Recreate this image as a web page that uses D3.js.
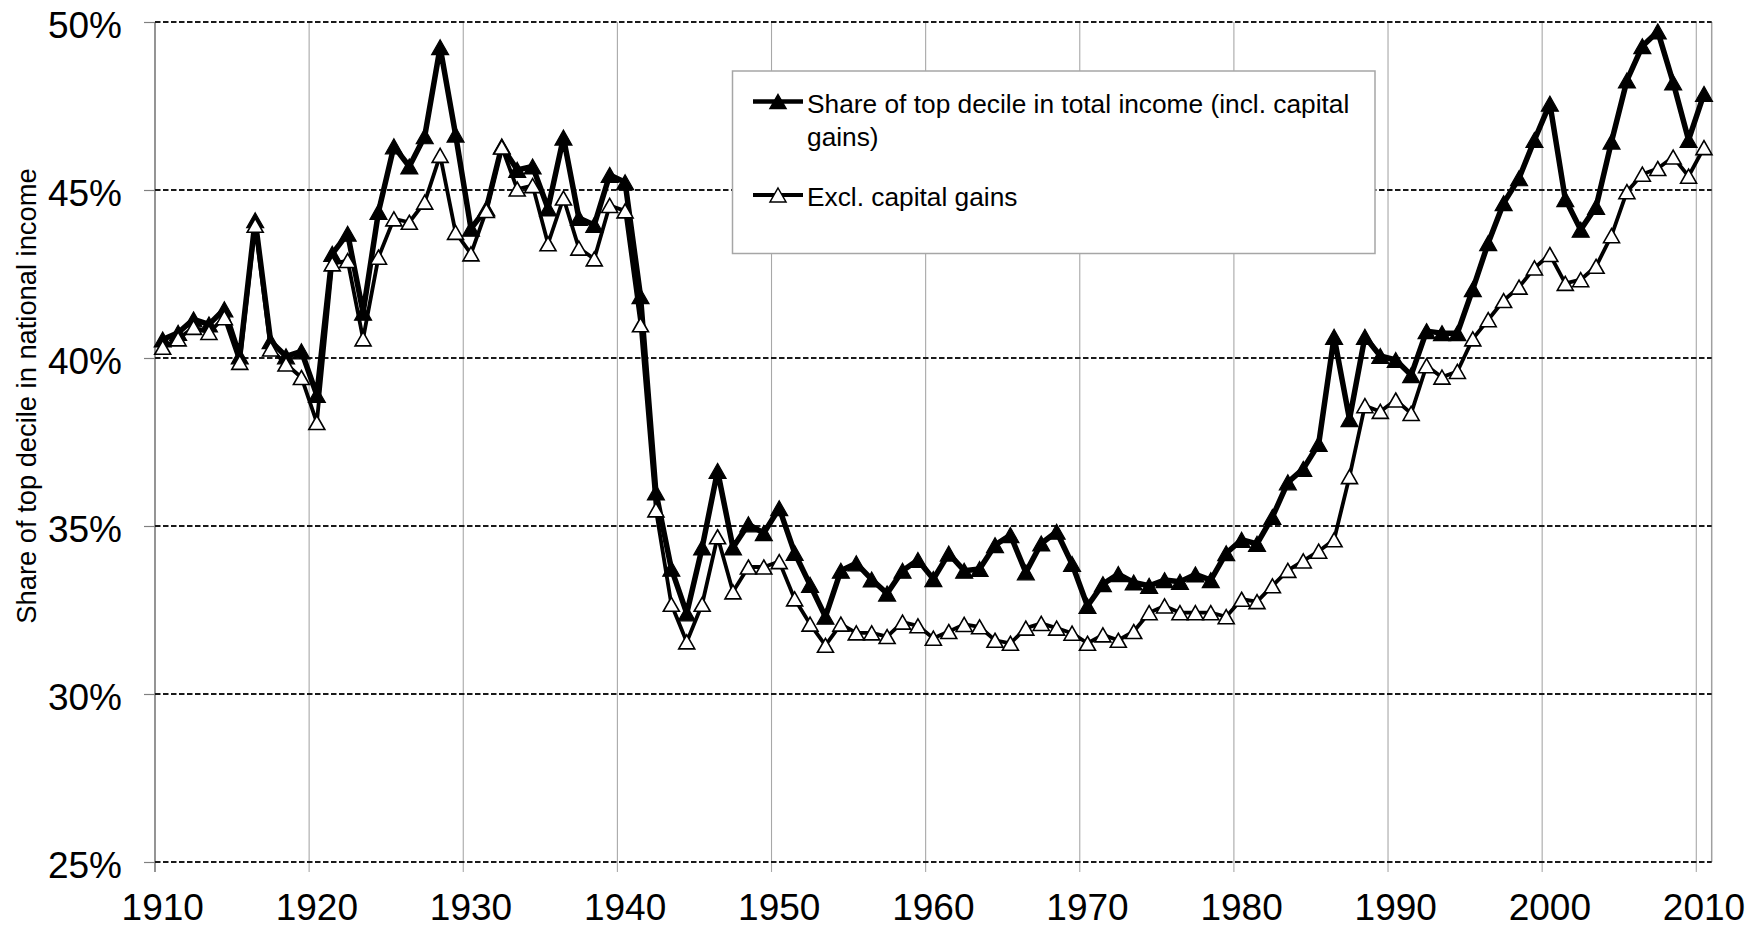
<!DOCTYPE html>
<html>
<head>
<meta charset="utf-8">
<script src="https://cdn.jsdelivr.net/npm/d3@7"></script>
<style>
  html, body { margin: 0; padding: 0; background: #fff; }
  svg { display: block; font-family: "Liberation Sans", Arial, Helvetica, sans-serif; }
</style>
</head>
<body>
<svg id="chart" width="1748" height="930"></svg>
<script>
const years = d3.range(1910, 2011);

const inclCapitalGains = [
  40.55, 40.75, 41.15, 41.0, 41.45, 40.05, 44.1, 40.5, 40.05, 40.2,
  38.9, 43.1, 43.7, 41.35, 44.35, 46.3, 45.7, 46.6, 49.25, 46.65,
  43.85, 44.45, 46.3, 45.6, 45.7, 44.45, 46.56, 44.17, 43.96, 45.45,
  45.23, 41.84, 36.0, 33.73, 32.4, 34.36, 36.64, 34.36, 35.05, 34.79,
  35.53, 34.2, 33.25, 32.3, 33.67, 33.89, 33.41, 32.99, 33.67, 33.99,
  33.42, 34.18, 33.67, 33.72, 34.43, 34.73, 33.62, 34.48, 34.83, 33.87,
  32.62, 33.27, 33.57, 33.32, 33.22, 33.39, 33.34, 33.56, 33.39, 34.19,
  34.59, 34.47, 35.27, 36.3, 36.7, 37.44, 40.63, 38.18, 40.63, 40.06,
  39.94, 39.49, 40.8, 40.74, 40.74, 42.05, 43.42, 44.61, 45.35, 46.49,
  47.57, 44.73, 43.82, 44.5, 46.44, 48.26, 49.28, 49.72, 48.2, 46.49,
  47.86
];

const exclCapitalGains = [
  40.32, 40.57, 40.91, 40.76, 41.2, 39.87, 43.95, 40.27, 39.82, 39.42,
  38.08, 42.8, 42.9, 40.57, 43.0, 44.14, 44.04, 44.64, 46.03, 43.74,
  43.1, 44.39, 46.28, 45.03, 45.13, 43.4, 44.76, 43.27, 42.95, 44.54,
  44.38, 40.99, 35.48, 32.67, 31.55, 32.67, 34.68, 33.04, 33.78, 33.78,
  33.94, 32.83, 32.08, 31.45, 32.08, 31.82, 31.82, 31.71, 32.14, 32.03,
  31.66, 31.86, 32.07, 32.0, 31.6, 31.51, 31.96, 32.1, 31.96, 31.81,
  31.51, 31.76, 31.6, 31.86, 32.42, 32.62, 32.42, 32.42, 32.42, 32.3,
  32.82, 32.75, 33.22, 33.68, 33.96, 34.25, 34.59, 36.47, 38.58, 38.41,
  38.75, 38.35, 39.77, 39.43, 39.6, 40.57, 41.14, 41.71, 42.11, 42.68,
  43.08, 42.22, 42.33, 42.73, 43.64, 44.95, 45.47, 45.64, 45.98, 45.41,
  46.26
];

const yTicks = [25, 30, 35, 40, 45, 50];
const xTickYears = [1910, 1920, 1930, 1940, 1950, 1960, 1970, 1980, 1990, 2000, 2010];
const seriesNames = [
  ["Share of top decile in total income (incl. capital", "gains)"],
  ["Excl. capital gains"]
];
const yTitle = "Share of top decile in national income";

const svg = d3.select("#chart");
const pLeft = 155, pRight = 1711.7, pTop = 22, pBottom = 862;

const x = d3.scaleBand().domain(years).range([pLeft, pRight]).paddingInner(0).paddingOuter(0);
const y = d3.scaleLinear().domain([25, 50]).range([pBottom, pTop]);
const cx = yr => x(yr) + x.bandwidth() / 2;

svg.append("rect").attr("width", 1748).attr("height", 930).attr("fill", "#fff");

// vertical gridlines at category boundaries
const g = svg.append("g");
g.selectAll("line.vgrid").data(xTickYears.slice(1)).join("line")
  .attr("class", "vgrid")
  .attr("x1", d => x(d)).attr("x2", d => x(d))
  .attr("y1", pTop).attr("y2", pBottom + 10)
  .attr("stroke", "#a8a8a8").attr("stroke-width", 1.1);

// plot area right border
g.append("line").attr("x1", pRight).attr("x2", pRight).attr("y1", pTop).attr("y2", pBottom)
  .attr("stroke", "#a0a0a0").attr("stroke-width", 1.5);

// left axis line + tick at 1910
g.append("line").attr("x1", pLeft).attr("x2", pLeft).attr("y1", pTop).attr("y2", pBottom + 10)
  .attr("stroke", "#7a7a7a").attr("stroke-width", 1.6);

// horizontal dashed gridlines
g.selectAll("line.hgrid").data(yTicks).join("line")
  .attr("class", "hgrid")
  .attr("x1", pLeft).attr("x2", pRight)
  .attr("y1", d => y(d)).attr("y2", d => y(d))
  .attr("stroke", "#1a1a1a").attr("stroke-width", 1.8)
  .attr("stroke-dasharray", "5.5,2.5");

// Y axis (ticks + labels)
const yAxis = d3.axisLeft(y).tickValues(yTicks).tickSize(11).tickPadding(22)
  .tickFormat(d => d + "%");
const yg = svg.append("g").attr("transform", `translate(${pLeft},0)`).call(yAxis);
yg.select(".domain").remove();
yg.selectAll(".tick line").attr("stroke", "#808080").attr("stroke-width", 1.2);
yg.selectAll(".tick text")
  .attr("font-size", 37).attr("fill", "#000")
  .attr("font-family", "'Liberation Sans', Arial, sans-serif")
  .attr("dy", "0.43em");

// X axis labels (centered on category)
const xAxis = d3.axisBottom(x).tickValues(xTickYears).tickSize(0).tickPadding(32);
const xg = svg.append("g").attr("transform", `translate(0,${pBottom})`).call(xAxis);
xg.select(".domain").remove();
xg.selectAll(".tick text")
  .attr("font-size", 37).attr("fill", "#000")
  .attr("font-family", "'Liberation Sans', Arial, sans-serif");

// Y axis title
svg.append("text")
  .attr("transform", `translate(36,396) rotate(-90)`)
  .attr("text-anchor", "middle")
  .attr("font-size", 27.3)
  .attr("fill", "#000")
  .text(yTitle);

// Triangle marker path (centered on bbox center)
function tri(w, h) {
  return `M0,${-h/2}L${w/2},${h/2}L${-w/2},${h/2}Z`;
}

const line = d3.line().x(d => cx(d[0])).y(d => y(d[1]));
const dataIncl = years.map((yr, i) => [yr, inclCapitalGains[i]]);
const dataExcl = years.map((yr, i) => [yr, exclCapitalGains[i]]);

const plot = svg.append("g");
plot.append("path").datum(dataIncl).attr("d", line)
  .attr("fill", "none").attr("stroke", "#000").attr("stroke-width", 5.5)
  .attr("stroke-linejoin", "round");
plot.selectAll("path.mInc").data(dataIncl).join("path")
  .attr("class", "mInc")
  .attr("transform", d => `translate(${cx(d[0])},${y(d[1])})`)
  .attr("d", tri(17, 15))
  .attr("fill", "#000").attr("stroke", "#000").attr("stroke-width", 1.2)
  .attr("stroke-linejoin", "miter");

plot.append("path").datum(dataExcl).attr("d", line)
  .attr("fill", "none").attr("stroke", "#000").attr("stroke-width", 3.8)
  .attr("stroke-linejoin", "round");
plot.selectAll("path.mExc").data(dataExcl).join("path")
  .attr("class", "mExc")
  .attr("transform", d => `translate(${cx(d[0])},${y(d[1])})`)
  .attr("d", tri(16, 14))
  .attr("fill", "#fff").attr("stroke", "#000").attr("stroke-width", 1.6);

// Legend
const lg = svg.append("g");
lg.append("rect").attr("x", 732.5).attr("y", 71).attr("width", 642.5).attr("height", 182.5)
  .attr("fill", "#fff").attr("stroke", "#a6a6a6").attr("stroke-width", 1.5);

const legendRows = [
  { y: 101.5, fill: "#000", sw: 4.5, text: seriesNames[0] },
  { y: 195, fill: "#fff", sw: 3.8, text: seriesNames[1] }
];
legendRows.forEach(r => {
  lg.append("line").attr("x1", 753).attr("x2", 803).attr("y1", r.y).attr("y2", r.y)
    .attr("stroke", "#000").attr("stroke-width", r.sw);
  lg.append("path").attr("transform", `translate(778,${r.y})`).attr("d", tri(16, 14))
    .attr("fill", r.fill).attr("stroke", "#000").attr("stroke-width", 1.5);
  const t = lg.append("text").attr("x", 807).attr("y", r.y + 11)
    .attr("font-size", 26.3).attr("fill", "#000");
  r.text.forEach((s, i) => {
    t.append("tspan").attr("x", 807).attr("dy", i === 0 ? 0 : 33).text(s);
  });
});
</script>
</body>
</html>
